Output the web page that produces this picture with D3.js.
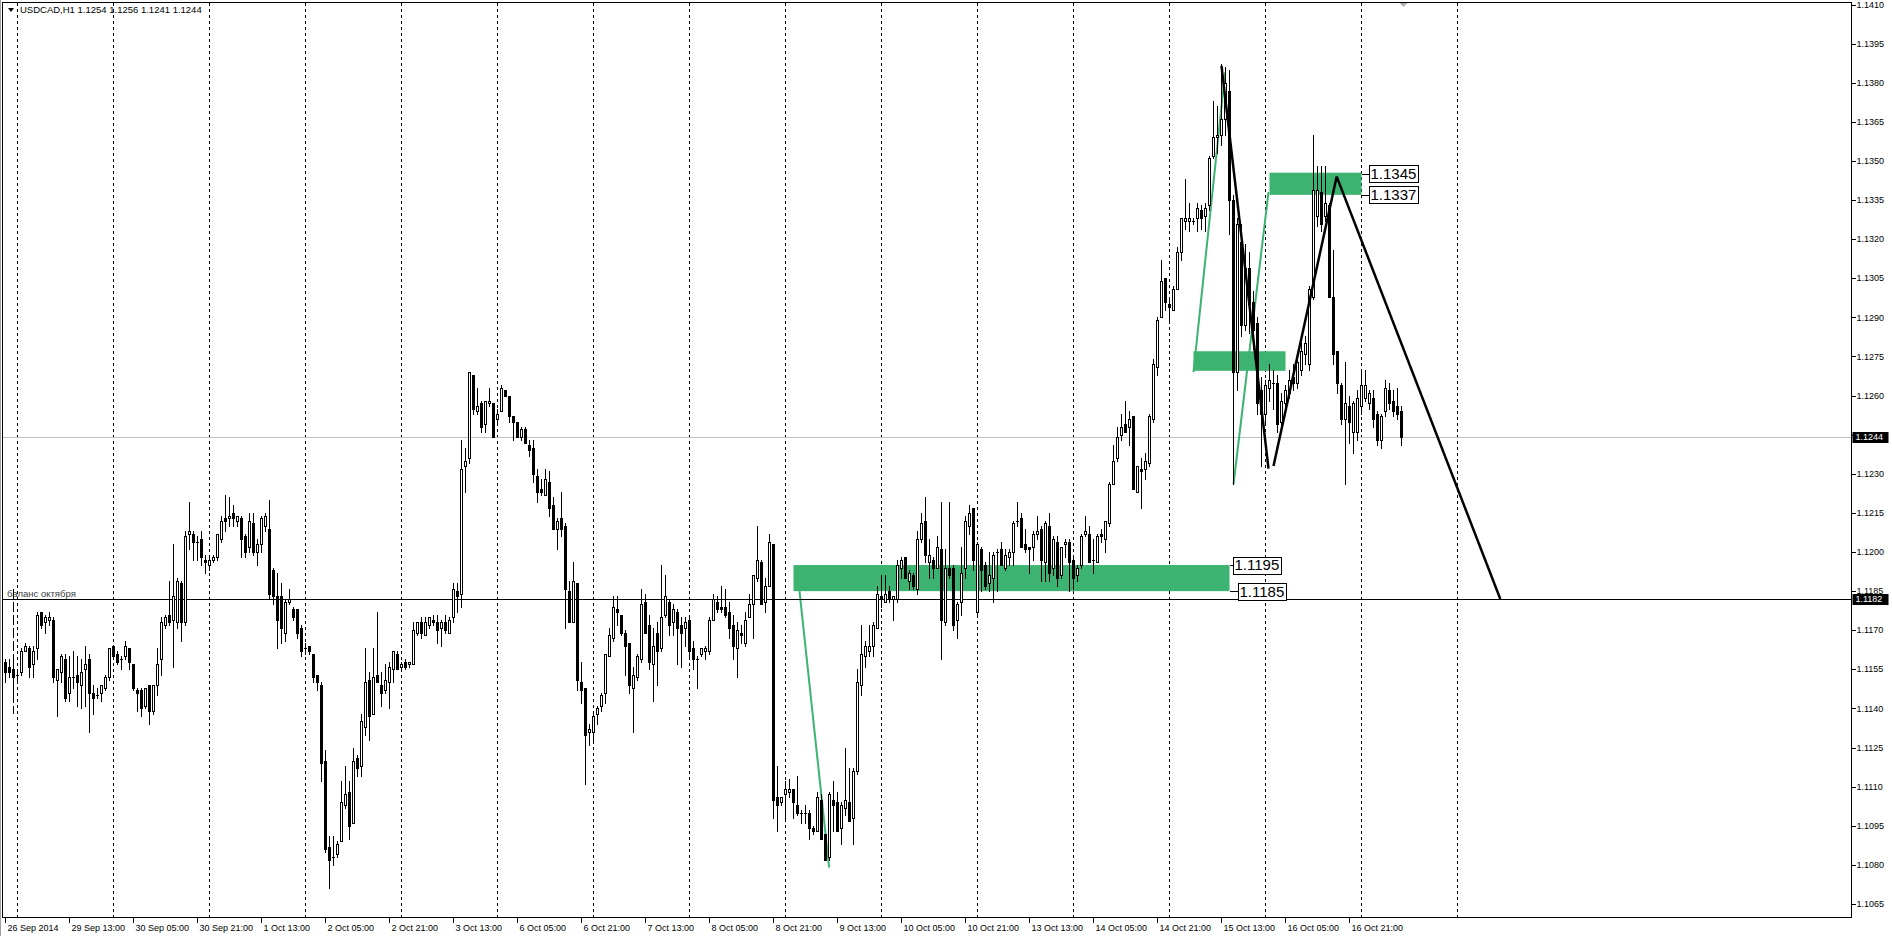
<!DOCTYPE html>
<html><head><meta charset="utf-8">
<script src="https://cdn.jsdelivr.net/npm/d3@7"></script>
<style>html,body{margin:0;padding:0;background:#fff;overflow:hidden}</style>
</head><body><svg id="c" width="1892" height="936"></svg>
<script>
const symbol = "USDCAD,H1";
const open = [
1.1158,1.1156,1.1155,1.1153,1.1154,1.1162,1.1163,1.1157,1.1163,1.1177,
1.1173,1.1174,1.1174,1.1151,1.1154,1.1159,1.1146,1.1152,1.1153,1.1149,
1.1155,1.1159,1.1146,1.1145,1.1146,1.1148,1.1152,1.1164,1.1161,1.1159,
1.1160,1.1163,1.1157,1.1147,1.1147,1.1141,1.1149,1.1139,1.1149,1.1159,
1.1172,1.1176,1.1174,1.1173,1.1188,1.1173,1.1207,1.1207,1.1204,1.1205,
1.1197,1.1195,1.1197,1.1198,1.1205,1.1213,1.1213,1.1215,1.1212,1.1213,
1.1206,1.1202,1.1211,1.1200,1.1203,1.1210,1.1209,1.1193,1.1183,1.1183,
1.1169,1.1181,1.1178,1.1178,1.1171,1.1163,1.1164,1.1161,1.1153,1.1149,
1.1120,1.1087,1.1083,1.1084,1.1089,1.1103,1.1108,1.1096,1.1121,1.1118,
1.1133,1.1151,1.1138,1.1153,1.1149,1.1147,1.1150,1.1155,1.1161,1.1156,
1.1158,1.1157,1.1157,1.1169,1.1173,1.1168,1.1172,1.1174,1.1173,1.1171,
1.1173,1.1169,1.1175,1.1185,1.1184,1.1233,1.1236,1.1268,1.1254,1.1257,
1.1249,1.1257,1.1257,1.1251,1.1254,1.1262,1.1260,1.1252,1.1250,1.1244,
1.1247,1.1241,1.1240,1.1229,1.1224,1.1222,1.1227,1.1218,1.1209,1.1213,
1.1210,1.1185,1.1173,1.1188,1.1150,1.1148,1.1131,1.1131,1.1138,1.1141,
1.1146,1.1160,1.1167,1.1178,1.1176,1.1169,1.1165,1.1148,1.1152,1.1159,
1.1181,1.1172,1.1157,1.1169,1.1163,1.1176,1.1181,1.1173,1.1177,1.1172,
1.1171,1.1174,1.1163,1.1159,1.1161,1.1162,1.1162,1.1174,1.1181,1.1179,
1.1179,1.1177,1.1172,1.1163,1.1169,1.1165,1.1175,1.1180,1.1190,1.1196,
1.1181,1.1187,1.1203,1.1106,1.1104,1.1107,1.1108,1.1109,1.1103,1.1100,
1.1100,1.1100,1.1094,1.1093,1.1105,1.1092,1.1083,1.1105,1.1104,1.1094,
1.1102,1.1104,1.1098,1.1116,1.1149,1.1160,1.1162,1.1164,1.1171,1.1183,
1.1181,1.1185,1.1182,1.1182,1.1194,1.1198,1.1189,1.1191,1.1186,1.1205,
1.1212,1.1196,1.1197,1.1194,1.1201,1.1173,1.1194,1.1194,1.1174,1.1181,
1.1194,1.1210,1.1217,1.1177,1.1201,1.1195,1.1188,1.1190,1.1200,1.1201,
1.1194,1.1198,1.1200,1.1212,1.1213,1.1203,1.1202,1.1202,1.1207,1.1209,
1.1196,1.1210,1.1194,1.1204,1.1191,1.1203,1.1204,1.1197,1.1191,1.1195,
1.1207,1.1207,1.1197,1.1196,1.1207,1.1205,1.1211,1.1226,1.1236,1.1245,
1.1249,1.1248,1.1252,1.1223,1.1232,1.1232,1.1234,1.1251,1.1271,1.1290,
1.1305,1.1295,1.1293,1.1301,1.1315,1.1327,1.1327,1.1327,1.1328,1.1331,
1.1329,1.1333,1.1352,1.1359,1.1360,1.1366,1.1377,1.1335,1.1269,1.1319,
1.1287,1.1309,1.1296,1.1288,1.1262,1.1253,1.1263,1.1265,1.1265,1.1250,
1.1257,1.1261,1.1267,1.1265,1.1270,1.1276,1.1272,1.1298,1.1329,1.1338,
1.1329,1.1333,1.1298,1.1277,1.1264,1.1251,1.1256,1.1246,1.1246,1.1256,
1.1259,1.1257,1.1259,1.1253,1.1243,1.1254,1.1262,1.1258,1.1256,1.1254];
const high = [
1.1159,1.1159,1.1159,1.1155,1.1163,1.1165,1.1164,1.1164,1.1177,1.1177,
1.1176,1.1177,1.1175,1.1155,1.1161,1.1161,1.1160,1.1162,1.1160,1.1159,
1.1164,1.1161,1.1149,1.1148,1.1149,1.1153,1.1163,1.1164,1.1162,1.1160,
1.1166,1.1163,1.1157,1.1148,1.1148,1.1148,1.1149,1.1149,1.1163,1.1175,
1.1176,1.1189,1.1203,1.1190,1.1189,1.1208,1.1219,1.1208,1.1206,1.1208,
1.1199,1.1199,1.1199,1.1207,1.1214,1.1222,1.1221,1.1218,1.1214,1.1214,
1.1207,1.1215,1.1215,1.1205,1.1214,1.1215,1.1220,1.1194,1.1192,1.1188,
1.1182,1.1186,1.1179,1.1178,1.1172,1.1165,1.1164,1.1161,1.1153,1.1150,
1.1124,1.1091,1.1091,1.1089,1.1112,1.1118,1.1112,1.1125,1.1122,1.1138,
1.1163,1.1154,1.1163,1.1177,1.1154,1.1157,1.1158,1.1162,1.1162,1.1158,
1.1159,1.1158,1.1173,1.1173,1.1175,1.1175,1.1175,1.1176,1.1176,1.1174,
1.1176,1.1175,1.1188,1.1188,1.1243,1.1240,1.1269,1.1268,1.1263,1.1258,
1.1258,1.1263,1.1257,1.1255,1.1264,1.1262,1.1260,1.1252,1.1250,1.1248,
1.1248,1.1243,1.1243,1.1232,1.1228,1.1232,1.1231,1.1221,1.1213,1.1223,
1.1211,1.1189,1.1196,1.1188,1.1158,1.1148,1.1134,1.1139,1.1141,1.1146,
1.1161,1.1171,1.1183,1.1183,1.1176,1.1170,1.1165,1.1156,1.1161,1.1186,
1.1184,1.1176,1.1171,1.1173,1.1195,1.1191,1.1182,1.1180,1.1178,1.1175,
1.1175,1.1175,1.1166,1.1160,1.1163,1.1164,1.1175,1.1184,1.1183,1.1187,
1.1186,1.1181,1.1176,1.1173,1.1172,1.1177,1.1184,1.1191,1.1210,1.1197,
1.1190,1.1207,1.1203,1.1118,1.1106,1.1112,1.1113,1.1109,1.1114,1.1101,
1.1103,1.1101,1.1095,1.1108,1.1107,1.1092,1.1108,1.1112,1.1108,1.1104,
1.1125,1.1117,1.1117,1.1155,1.1172,1.1166,1.1172,1.1173,1.1187,1.1191,
1.1191,1.1187,1.1183,1.1197,1.1198,1.1198,1.1193,1.1192,1.1208,1.1215,
1.1221,1.1205,1.1198,1.1206,1.1219,1.1201,1.1219,1.1195,1.1181,1.1202,
1.1214,1.1218,1.1217,1.1204,1.1202,1.1196,1.1200,1.1200,1.1201,1.1204,
1.1201,1.1201,1.1212,1.1219,1.1215,1.1209,1.1202,1.1208,1.1214,1.1210,
1.1212,1.1215,1.1206,1.1206,1.1202,1.1205,1.1205,1.1199,1.1195,1.1207,
1.1214,1.1210,1.1205,1.1207,1.1209,1.1212,1.1227,1.1241,1.1248,1.1253,
1.1258,1.1254,1.1252,1.1233,1.1236,1.1238,1.1253,1.1274,1.1290,1.1312,
1.1305,1.1298,1.1302,1.1317,1.1328,1.1343,1.1334,1.1328,1.1334,1.1333,
1.1334,1.1352,1.1373,1.1371,1.1387,1.1386,1.1385,1.1337,1.1328,1.1326,
1.1318,1.1315,1.1300,1.1290,1.1267,1.1266,1.1272,1.1270,1.1268,1.1261,
1.1264,1.1270,1.1272,1.1276,1.1280,1.1283,1.1302,1.1360,1.1348,1.1348,
1.1348,1.1334,1.1316,1.1277,1.1265,1.1273,1.1260,1.1258,1.1262,1.1269,
1.1270,1.1262,1.1262,1.1254,1.1253,1.1266,1.1265,1.1262,1.1263,1.1256];
const low = [
1.1150,1.1152,1.1143,1.1151,1.1153,1.1162,1.1152,1.1152,1.1159,1.1171,
1.1169,1.1172,1.1150,1.1137,1.1150,1.1143,1.1143,1.1148,1.1141,1.1140,
1.1141,1.1131,1.1138,1.1144,1.1143,1.1147,1.1151,1.1159,1.1157,1.1155,
1.1159,1.1155,1.1147,1.1139,1.1137,1.1140,1.1134,1.1138,1.1145,1.1153,
1.1171,1.1172,1.1156,1.1171,1.1166,1.1172,1.1201,1.1197,1.1197,1.1195,
1.1192,1.1193,1.1196,1.1197,1.1204,1.1208,1.1210,1.1210,1.1210,1.1198,
1.1198,1.1200,1.1199,1.1195,1.1200,1.1208,1.1182,1.1180,1.1163,1.1165,
1.1166,1.1180,1.1174,1.1167,1.1160,1.1161,1.1161,1.1150,1.1147,1.1112,
1.1085,1.1071,1.1080,1.1083,1.1089,1.1102,1.1090,1.1096,1.1114,1.1114,
1.1130,1.1128,1.1138,1.1150,1.1141,1.1146,1.1140,1.1150,1.1155,1.1155,
1.1155,1.1156,1.1157,1.1168,1.1167,1.1168,1.1171,1.1172,1.1165,1.1164,
1.1169,1.1169,1.1173,1.1177,1.1179,1.1223,1.1234,1.1253,1.1253,1.1246,
1.1246,1.1256,1.1244,1.1249,1.1254,1.1260,1.1250,1.1243,1.1244,1.1243,
1.1242,1.1237,1.1227,1.1219,1.1222,1.1222,1.1214,1.1209,1.1201,1.1206,
1.1171,1.1173,1.1173,1.1147,1.1142,1.1111,1.1126,1.1128,1.1134,1.1139,
1.1142,1.1160,1.1166,1.1172,1.1168,1.1153,1.1146,1.1131,1.1151,1.1158,
1.1169,1.1155,1.1143,1.1149,1.1162,1.1175,1.1168,1.1168,1.1157,1.1156,
1.1164,1.1159,1.1155,1.1148,1.1160,1.1159,1.1161,1.1174,1.1177,1.1177,
1.1175,1.1167,1.1159,1.1152,1.1165,1.1164,1.1175,1.1167,1.1189,1.1180,
1.1177,1.1187,1.1098,1.1093,1.1103,1.1097,1.1106,1.1098,1.1099,1.1096,
1.1096,1.1090,1.1092,1.1093,1.1090,1.1082,1.1082,1.1093,1.1093,1.1088,
1.1099,1.1097,1.1088,1.1115,1.1145,1.1156,1.1160,1.1160,1.1171,1.1179,
1.1181,1.1181,1.1174,1.1181,1.1190,1.1190,1.1186,1.1186,1.1184,1.1204,
1.1196,1.1190,1.1190,1.1194,1.1159,1.1172,1.1190,1.1170,1.1167,1.1176,
1.1190,1.1207,1.1193,1.1175,1.1185,1.1186,1.1185,1.1181,1.1185,1.1195,
1.1193,1.1195,1.1195,1.1210,1.1202,1.1200,1.1192,1.1197,1.1205,1.1189,
1.1189,1.1189,1.1191,1.1187,1.1190,1.1198,1.1185,1.1186,1.1189,1.1194,
1.1206,1.1196,1.1192,1.1196,1.1204,1.1200,1.1210,1.1226,1.1235,1.1243,
1.1246,1.1241,1.1224,1.1223,1.1217,1.1228,1.1233,1.1250,1.1268,1.1290,
1.1293,1.1288,1.1293,1.1301,1.1312,1.1324,1.1323,1.1326,1.1323,1.1324,
1.1323,1.1331,1.1351,1.1353,1.1356,1.1360,1.1322,1.1226,1.1262,1.1283,
1.1285,1.1284,1.1278,1.1253,1.1233,1.1250,1.1258,1.1255,1.1246,1.1247,
1.1255,1.1259,1.1262,1.1263,1.1268,1.1272,1.1270,1.1297,1.1325,1.1323,
1.1327,1.1298,1.1272,1.1261,1.1249,1.1226,1.1242,1.1238,1.1243,1.1253,
1.1258,1.1255,1.1248,1.1241,1.1240,1.1252,1.1255,1.1252,1.1251,1.1241];
const close = [
1.1154,1.1154,1.1152,1.1153,1.1162,1.1164,1.1156,1.1162,1.1176,1.1172,
1.1175,1.1175,1.1152,1.1155,1.1160,1.1144,1.1152,1.1152,1.1150,1.1154,
1.1157,1.1146,1.1144,1.1145,1.1149,1.1152,1.1163,1.1160,1.1158,1.1159,
1.1164,1.1158,1.1148,1.1146,1.1140,1.1148,1.1139,1.1149,1.1157,1.1173,
1.1175,1.1173,1.1183,1.1189,1.1173,1.1206,1.1208,1.1204,1.1204,1.1198,
1.1196,1.1197,1.1198,1.1207,1.1212,1.1212,1.1214,1.1213,1.1214,1.1205,
1.1200,1.1212,1.1200,1.1203,1.1213,1.1214,1.1184,1.1183,1.1174,1.1171,
1.1181,1.1182,1.1175,1.1169,1.1162,1.1163,1.1162,1.1152,1.1150,1.1119,
1.1086,1.1082,1.1083,1.1088,1.1104,1.1107,1.1095,1.1120,1.1117,1.1135,
1.1150,1.1137,1.1152,1.1150,1.1146,1.1151,1.1156,1.1162,1.1155,1.1157,
1.1156,1.1158,1.1170,1.1173,1.1169,1.1173,1.1175,1.1173,1.1170,1.1173,
1.1170,1.1174,1.1186,1.1183,1.1232,1.1235,1.1269,1.1255,1.1256,1.1248,
1.1258,1.1258,1.1244,1.1253,1.1263,1.1260,1.1252,1.1250,1.1244,1.1247,
1.1242,1.1239,1.1230,1.1223,1.1223,1.1228,1.1217,1.1209,1.1212,1.1209,
1.1186,1.1173,1.1189,1.1151,1.1147,1.1130,1.1132,1.1137,1.1140,1.1145,
1.1161,1.1168,1.1179,1.1177,1.1169,1.1164,1.1149,1.1153,1.1160,1.1180,
1.1169,1.1158,1.1164,1.1162,1.1175,1.1183,1.1172,1.1178,1.1171,1.1169,
1.1173,1.1162,1.1159,1.1159,1.1163,1.1163,1.1174,1.1182,1.1178,1.1178,
1.1176,1.1171,1.1164,1.1170,1.1168,1.1174,1.1180,1.1191,1.1197,1.1180,
1.1187,1.1204,1.1105,1.1103,1.1106,1.1109,1.1109,1.1104,1.1100,1.1100,
1.1100,1.1094,1.1093,1.1106,1.1090,1.1082,1.1107,1.1103,1.1093,1.1103,
1.1105,1.1097,1.1116,1.1150,1.1161,1.1164,1.1164,1.1172,1.1184,1.1182,
1.1184,1.1182,1.1183,1.1195,1.1197,1.1190,1.1192,1.1187,1.1205,1.1211,
1.1199,1.1199,1.1194,1.1202,1.1174,1.1194,1.1191,1.1172,1.1180,1.1192,
1.1212,1.1215,1.1197,1.1203,1.1193,1.1187,1.1191,1.1199,1.1200,1.1195,
1.1199,1.1200,1.1211,1.1212,1.1202,1.1201,1.1201,1.1207,1.1208,1.1197,
1.1211,1.1192,1.1205,1.1190,1.1202,1.1204,1.1196,1.1190,1.1194,1.1206,
1.1208,1.1196,1.1197,1.1206,1.1206,1.1212,1.1226,1.1235,1.1244,1.1248,
1.1246,1.1251,1.1224,1.1233,1.1231,1.1235,1.1252,1.1272,1.1289,1.1304,
1.1296,1.1294,1.1301,1.1315,1.1328,1.1328,1.1328,1.1327,1.1332,1.1328,
1.1332,1.1351,1.1359,1.1360,1.1366,1.1380,1.1335,1.1269,1.1326,1.1287,
1.1309,1.1295,1.1285,1.1257,1.1253,1.1264,1.1266,1.1265,1.1249,1.1258,
1.1262,1.1266,1.1265,1.1273,1.1277,1.1280,1.1301,1.1339,1.1339,1.1326,
1.1334,1.1298,1.1276,1.1265,1.1251,1.1257,1.1250,1.1257,1.1259,1.1264,
1.1264,1.1261,1.1251,1.1243,1.1252,1.1263,1.1257,1.1254,1.1253,1.1244];

const priceTicks = [1.1410,1.1395,1.1380,1.1365,1.1350,1.1335,1.1320,1.1305,1.1290,1.1275,1.1260,1.1245,1.1230,1.1215,1.1200,1.1185,1.1170,1.1155,1.1140,1.1125,1.1110,1.1095,1.1080,1.1065];
const timeLabels = ["26 Sep 2014","29 Sep 13:00","30 Sep 05:00","30 Sep 21:00","1 Oct 13:00","2 Oct 05:00","2 Oct 21:00","3 Oct 13:00","6 Oct 05:00","6 Oct 21:00","7 Oct 13:00","8 Oct 05:00","8 Oct 21:00","9 Oct 13:00","10 Oct 05:00","10 Oct 21:00","13 Oct 13:00","14 Oct 05:00","14 Oct 21:00","15 Oct 13:00","16 Oct 05:00","16 Oct 21:00"];
const timeLabelBars = [0,16,32,48,64,80,96,112,128,144,160,176,192,208,224,240,256,272,288,304,320,336];
const dayStartBars = [3,27,51,75,99,123,147,171,195,219,243,267,291,315,339,363];

// drawn objects (bar index, price)
const zoneFrom = [197, 297, 316];
const zoneTo = [306, 320, 339];
const zoneTop = [1.1195, 1.1277, 1.13455];
const zoneBottom = [1.1185, 1.12695, 1.1337];
const zoneLabels = [["1.1195","1.1185"], [], ["1.1345","1.1337"]];
const greenLines = [[[198.5,1.1185],[205.9,1.1079]], [[297.0,1.1269],[304.9,1.1384]], [[307.0,1.1226],[315.75,1.1338]]];
const blackLines = [[[304.0,1.13865],[315.75,1.1232]], [[317.0,1.1233],[332.8,1.1344]], [[332.8,1.1344],[373.7,1.1182]]];
const levelPrice = 1.1182, levelText = "баланс октября";
const bidPrice = close[close.length-1];
const vSegBar = 2, vSegPrices = [1.1186, 1.1138];

const svg = d3.select("#c");
const L = 2.5, R = 1851.5, T = 2.5, B = 917.5;
const x = d3.scaleLinear().domain([0, 349]).range([5.5, 1401.5]);
const y = d3.scaleLinear().domain([1.1065, 1.1410]).range([904, 4.5]);
const yc = v => Math.round(y(v)) + 0.5;
const FONT = "Liberation Sans, Arial, sans-serif";
const green = "#3cb371";

svg.append("rect").attr("width",1892).attr("height",936).attr("fill","#fff");

// day separators
svg.append("g").selectAll("line").data(dayStartBars).join("line")
  .attr("x1", d => x(d)).attr("x2", d => x(d)).attr("y1", T).attr("y2", B)
  .attr("stroke","#000").attr("stroke-width",1).attr("stroke-dasharray","3,3")
  .attr("shape-rendering","crispEdges");

// bid line
svg.append("line").attr("x1",L).attr("x2",R).attr("y1",yc(bidPrice)).attr("y2",yc(bidPrice))
  .attr("stroke","#c0c0c0").attr("shape-rendering","crispEdges");

// zones
const zi = d3.range(zoneFrom.length);
svg.append("g").selectAll("rect").data(zi).join("rect")
  .attr("x", i => x(zoneFrom[i])).attr("width", i => x(zoneTo[i]) - x(zoneFrom[i]))
  .attr("y", i => y(zoneTop[i])).attr("height", i => y(zoneBottom[i]) - y(zoneTop[i]))
  .attr("fill", green);

// green lines
const lineGen = d3.line().x(d => x(d[0])).y(d => y(d[1]));
svg.append("g").selectAll("path").data(greenLines).join("path")
  .attr("d", lineGen).attr("stroke", green).attr("stroke-width",2).attr("fill","none");

// level line
svg.append("line").attr("x1",L).attr("x2",R).attr("y1",yc(levelPrice)).attr("y2",yc(levelPrice))
  .attr("stroke","#000").attr("shape-rendering","crispEdges");
svg.append("text").attr("x",7).attr("y",yc(levelPrice)-3).text(levelText)
  .attr("font-family",FONT).attr("font-size","9.5px").attr("fill","#404040");

// vertical dashed segment
svg.append("line").attr("x1",x(vSegBar)).attr("x2",x(vSegBar)).attr("y1",y(vSegPrices[0])).attr("y2",y(vSegPrices[1]))
  .attr("stroke","#000").attr("stroke-dasharray","10,3").attr("shape-rendering","crispEdges");

// candles
const idx = d3.range(open.length);
const cg = svg.append("g").attr("shape-rendering","crispEdges");
cg.selectAll("line.w").data(idx).join("line").attr("class","w")
  .attr("x1", i => x(i)).attr("x2", i => x(i))
  .attr("y1", i => Math.round(y(high[i]))).attr("y2", i => Math.round(y(low[i])) + 1)
  .attr("stroke","#000");
cg.selectAll("rect.b").data(idx).join("rect").attr("class","b")
  .each(function(i){
    const s = d3.select(this);
    const yo = Math.round(y(open[i])), ycl = Math.round(y(close[i]));
    const top = Math.min(yo, ycl), bot = Math.max(yo, ycl);
    if (close[i] > open[i]) {
      s.attr("x", x(i) - 1).attr("width", 2).attr("y", top + 0.5).attr("height", Math.max(1, bot - top))
       .attr("fill","#fff").attr("stroke","#000");
    } else {
      s.attr("x", x(i) - 2).attr("width", 3).attr("y", top).attr("height", Math.max(1, bot - top + 1))
       .attr("fill","#000");
    }
  });

// black trend lines
svg.append("g").selectAll("path").data(blackLines).join("path")
  .attr("d", lineGen).attr("stroke","#000").attr("stroke-width",2.5).attr("fill","none");

// zone labels
zi.forEach(i => {
  zoneLabels[i].forEach((t, j) => {
    const p = +t;
    const x0 = x(zoneTo[i]);
    const lx = x0 + (i === 0 ? (j === 0 ? 3 : 8) : 7);
    svg.append("line").attr("x1",x0).attr("x2",lx).attr("y1",yc(p)).attr("y2",yc(p)).attr("stroke","#000").attr("shape-rendering","crispEdges");
    const txt = svg.append("text").attr("x", lx + 2).attr("y", y(p)).attr("dy","0.36em").text(t)
      .attr("font-family",FONT).attr("font-size","15px").attr("fill","#000");
    const bb = txt.node().getBBox();
    svg.insert("rect", () => txt.node()).attr("x", Math.round(lx)+0.5).attr("y", Math.round(y(p) - 8.5)+0.5)
      .attr("width", Math.round(bb.width + 3)).attr("height", 17)
      .attr("fill","#fff").attr("stroke","#000").attr("shape-rendering","crispEdges");
  });
});

// frame
svg.append("rect").attr("x",L).attr("y",T).attr("width",R-L).attr("height",B-T)
  .attr("fill","none").attr("stroke","#000").attr("shape-rendering","crispEdges");
svg.append("line").attr("x1",0.5).attr("x2",0.5).attr("y1",0).attr("y2",936).attr("stroke","#a0a0a0");

// price axis
const pa = svg.append("g");
pa.selectAll("line").data(priceTicks).join("line")
  .attr("x1",R).attr("x2",R+4).attr("y1",d => yc(d)).attr("y2",d => yc(d))
  .attr("stroke","#000").attr("shape-rendering","crispEdges");
pa.selectAll("text").data(priceTicks).join("text")
  .attr("x",R+5).attr("y",d => y(d)).attr("dy","0.35em").text(d => d.toFixed(4))
  .attr("font-family",FONT).attr("font-size","9px").attr("fill","#000");
[levelPrice, bidPrice].forEach(p => {
  svg.append("rect").attr("x",R+1).attr("y",Math.round(y(p))-5).attr("width",36).attr("height",11).attr("fill","#000");
  svg.append("text").attr("x",R+4).attr("y",y(p)).attr("dy","0.35em").text(p.toFixed(4))
    .attr("font-family",FONT).attr("font-size","9px").attr("fill","#fff");
});

// time axis
const ta = svg.append("g");
ta.selectAll("line").data(timeLabelBars).join("line")
  .attr("x1",d => x(d)).attr("x2",d => x(d)).attr("y1",B).attr("y2",B+5)
  .attr("stroke","#000").attr("shape-rendering","crispEdges");
ta.selectAll("text").data(timeLabels).join("text")
  .attr("x",(d,i) => x(timeLabelBars[i]) + 2).attr("y",931).text(d => d)
  .attr("font-family",FONT).attr("font-size","9px").attr("fill","#000");

// header
svg.append("path").attr("d","M8,8 L14,8 L11,12 Z").attr("fill","#000");
svg.append("text").attr("x",20).attr("y",13)
  .text(`${symbol}  ${open[349].toFixed(4)} ${high[349].toFixed(4)} ${low[349].toFixed(4)} ${close[349].toFixed(4)}`)
  .attr("font-family",FONT).attr("font-size","9.5px").attr("fill","#000");
// shift marker
svg.append("path").attr("d",`M${x(349)-2},3 L${x(349)+6},3 L${x(349)+2},7 Z`).attr("fill","#b0b0b0");
</script></body></html>
